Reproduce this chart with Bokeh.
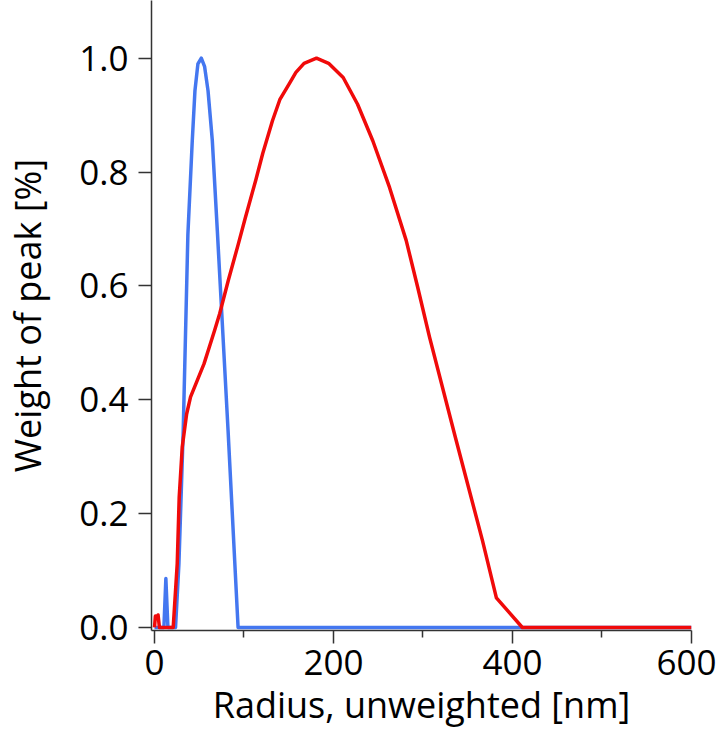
from bokeh.plotting import figure
from bokeh.models import Range1d, FixedTicker, NumeralTickFormatter
from bokeh.embed import file_html
from bokeh.resources import INLINE

# Blue distribution (radius in nm, normalized weight)
blue_r = [0, 8, 10.5, 12.7, 15, 22, 23.5, 27.3, 32.1, 37.3, 42.2, 45.2, 48.5,
          52.3, 56, 59.8, 64.6, 70.2, 82.2, 93.4, 600]
blue_w = [0, 0, 0, 0.086, 0, 0, 0, 0.112, 0.346, 0.69, 0.855, 0.943, 0.99,
          1.0, 0.985, 0.943, 0.855, 0.697, 0.346, 0, 0]

# Red distribution
red_r = [0, 1, 3, 4, 5.5, 20, 20.9, 25.4, 27.6, 31, 35.9, 40.3, 47.8, 55.3,
         67.2, 72.8, 82.5, 93.4, 101.2, 113.2, 121, 131.8, 140, 150.5, 158,
         167.1, 181, 194.5, 210.8, 226.9, 243.9, 262.6, 281.2, 294, 307.3,
         336, 366.4, 382, 411, 600]
red_w = [0, 0.02, 0.018, 0.022, 0, 0, 0, 0.112, 0.229, 0.317, 0.375, 0.405,
         0.434, 0.463, 0.522, 0.551, 0.61, 0.672, 0.718, 0.786, 0.833, 0.89,
         0.927, 0.955, 0.975, 0.991, 1.0, 0.991, 0.966, 0.919, 0.855, 0.773,
         0.68, 0.598, 0.51, 0.335, 0.153, 0.052, 0, 0]

x_ticks = [0, 200, 400, 600]
x_minor = [100, 300, 500]
y_ticks = [0, 0.2, 0.4, 0.6, 0.8, 1.0]

FONT = "Open Sans"

p = figure(frame_width=540, frame_height=630,
           x_range=Range1d(-3.35, 600), y_range=Range1d(-0.0053, 1.1013),
           output_backend="svg", toolbar_location=None,
           min_border_left=146, min_border_top=0, min_border_right=25,
           min_border_bottom=100)

p.line(blue_r, blue_w, line_color="#4477F0", line_width=3.5, line_join="round")
p.line(red_r, red_w, line_color="#F00A0A", line_width=3.5, line_join="round")

p.grid.visible = False
p.outline_line_color = None
p.background_fill_color = "white"
p.border_fill_color = "white"

p.xaxis.ticker = FixedTicker(ticks=x_ticks, minor_ticks=x_minor)
p.yaxis.ticker = FixedTicker(ticks=y_ticks, minor_ticks=[])
p.yaxis.formatter = NumeralTickFormatter(format="0.0")
p.xaxis.formatter = NumeralTickFormatter(format="0")

for ax in (p.xaxis[0], p.yaxis[0]):
    ax.axis_line_color = "#333333"
    ax.axis_line_width = 1.5
    ax.major_tick_line_color = "#333333"
    ax.major_tick_line_width = 1.5
    ax.minor_tick_line_color = "#333333"
    ax.minor_tick_line_width = 1.5
    ax.major_tick_in = 0
    ax.major_tick_out = 13
    ax.minor_tick_in = 0
    ax.minor_tick_out = 7
    ax.major_label_text_font = FONT
    ax.major_label_text_font_size = "35px"
    ax.major_label_text_color = "black"
    ax.axis_label_text_font = FONT
    ax.axis_label_text_font_size = "36px"
    ax.axis_label_text_font_style = "normal"
    ax.axis_label_text_color = "black"

p.yaxis.minor_tick_out = 0
p.xaxis.axis_label = "Radius, unweighted [nm]"
p.yaxis.axis_label = "Weight of peak [%]"
p.xaxis.major_label_standoff = 6
p.yaxis.major_label_standoff = 10
p.xaxis.axis_label_standoff = 2
p.yaxis.axis_label_standoff = 24

open("out.html", "w").write(file_html(p, INLINE))
